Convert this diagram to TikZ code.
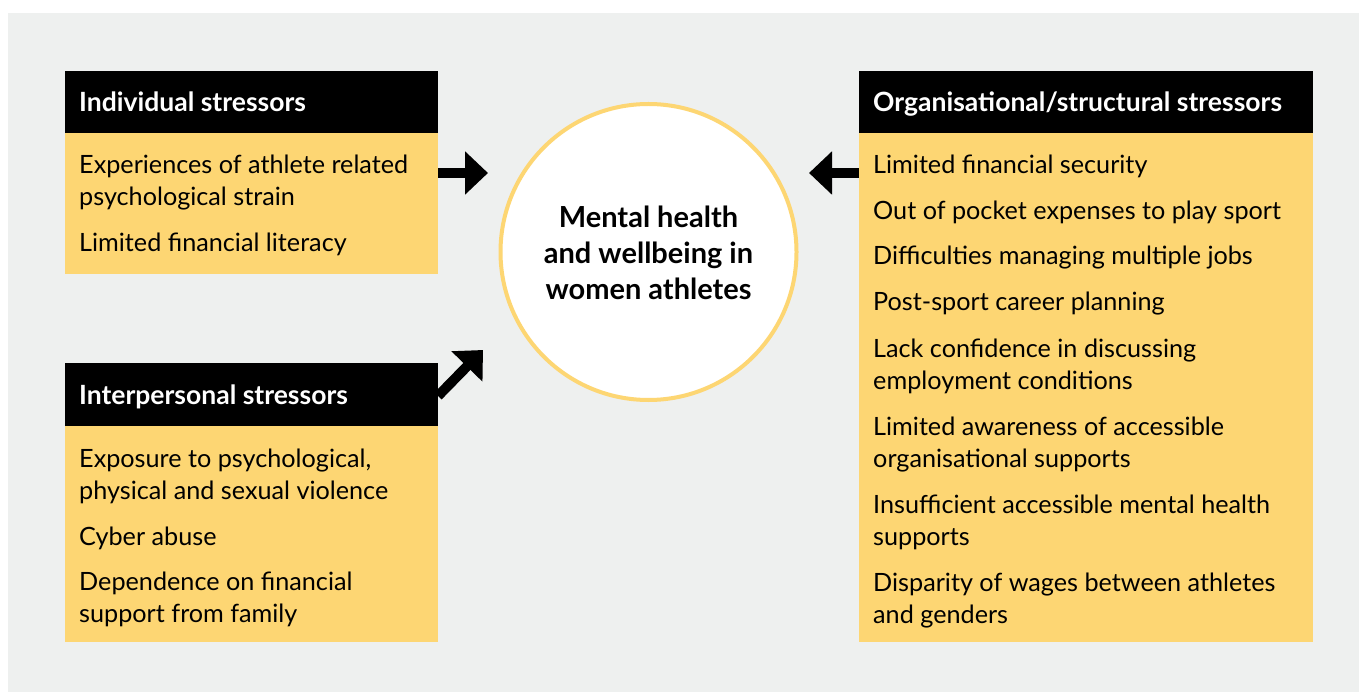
\documentclass[tikz,border=0pt]{standalone}
\usepackage{fontspec}
\setmainfont{Lato}
\usetikzlibrary{arrows.meta}
\definecolor{bgrey}{HTML}{EEF0EF}
\definecolor{byellow}{HTML}{FDD673}
\begin{document}
\begin{tikzpicture}[x=1pt,y=-1pt,
  hdr/.style={fill=black,draw=none},
  bodybox/.style={fill=byellow,draw=none},
  hdrtext/.style={anchor=base west,inner sep=0pt,text=white,font=\fontsize{26.5}{30}\selectfont\bfseries},
  item/.style={anchor=base west,inner sep=0pt,align=left,font=\fontsize{25.2}{32}\selectfont},
  arr/.style={line width=10pt,-{Triangle[length=23pt,width=42pt]}}
]
\useasboundingbox (0,0) rectangle (1359,692);
\fill[bgrey] (8,13) rectangle (1359,692);
% Individual
\path[hdr] (65,71) rectangle (438,133);
\path[bodybox] (65,133) rectangle (438,274);
\node[hdrtext] (indh) at (79,112) {Individual stressors};
\node[item] (i1) at (79,206) {Experiences of athlete related\\psychological strain};
\node[item] (i2) at (79,252) {Limited financial literacy};
% Interpersonal
\path[hdr] (65,363) rectangle (438,426);
\path[bodybox] (65,426) rectangle (438,642);
\node[hdrtext] (iph) at (79,404) {Interpersonal stressors};
\node[item] (p1) at (79,499) {Exposure to psychological,\\physical and sexual violence};
\node[item] (p2) at (79,545) {Cyber abuse};
\node[item] (p3) at (79,622) {Dependence on financial\\support from family};
% Organisational
\path[hdr] (859,71) rectangle (1313,133);
\path[bodybox] (859,133) rectangle (1313,642);
\node[hdrtext] (orh) at (873,112) {Organisational/structural stressors};
\node[item] (o1) at (873,174) {Limited financial security};
\node[item] (o2) at (873,220) {Out of pocket expenses to play sport};
\node[item] (o3) at (873,265) {Difficulties managing multiple jobs};
\node[item] (o4) at (873,311) {Post-sport career planning};
\node[item] (o5) at (873,389) {Lack confidence in discussing\\employment conditions};
\node[item] (o6) at (873,467) {Limited awareness of accessible\\organisational supports};
\node[item] (o7) at (873,545) {Insufficient accessible mental health\\supports};
\node[item] (o8) at (873,623) {Disparity of wages between athletes\\and genders};
% Centre
\node[circle,draw=byellow,line width=4pt,fill=white,minimum size=296pt,inner sep=0pt] (c) at (648.5,252) {};
\node[align=center,font=\fontsize{29}{36}\selectfont\bfseries,inner sep=0pt,anchor=base] (ct) at (648.5,300) {Mental health\\and wellbeing in\\women athletes};
% Arrows
\coordinate (a1s) at (438,173);
\coordinate (a1e) at (488,173);
\coordinate (a2s) at (438,396);
\coordinate (a2e) at (483,350);
\coordinate (a3s) at (859,173);
\coordinate (a3e) at (809,173);
\draw[arr] (a1s) -- (a1e);
\draw[arr] (a2s) -- (a2e);
\draw[arr] (a3s) -- (a3e);
\end{tikzpicture}
\end{document}
